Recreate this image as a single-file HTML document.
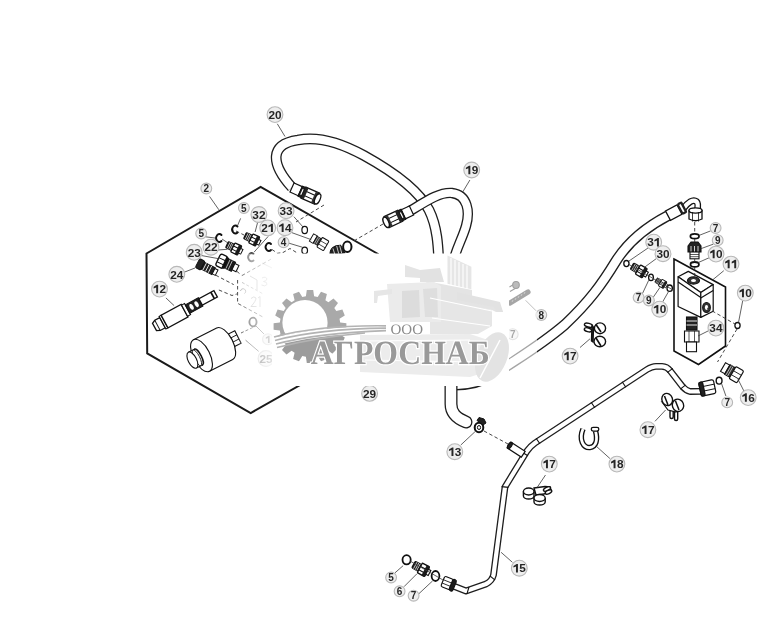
<!DOCTYPE html>
<html><head><meta charset="utf-8">
<style>
html,body{margin:0;padding:0;background:#fff;width:781px;height:641px;overflow:hidden}
svg{display:block;will-change:transform}
.lb circle{fill:#eeeeee;stroke:#b8b8b8;stroke-width:1.1}
.lb text{font-family:"Liberation Sans",sans-serif;font-weight:bold;font-size:11.8px;fill:#262626;text-anchor:middle}
.ld{stroke:#444;stroke-width:0.8;fill:none}
.dash{stroke:#333;stroke-width:0.8;fill:none;stroke-dasharray:4 3}
</style></head>
<body>
<svg width="781" height="641" viewBox="0 0 781 641">
<rect width="781" height="641" fill="#fff"/>

<!-- hexagon -->
<polygon points="146.5,253.5 260.6,187 378,254 378,341 250.7,413 147.2,353.3" fill="none" stroke="#1a1a1a" stroke-width="2"/>

<!-- hoses (outline technique) -->
<g id="hoses" fill="none" stroke-linecap="butt">
  <!-- hose 20 -->
  <path id="h20" d="M292,187.5 C270,163 270,144 298,140 C320,135.5 344,144.5 364,155.5 C392,171 418,189 429,210 C437,226 438.5,245 439,270 L443,360"/>
  <!-- hose 19 -->
  <path id="h19" d="M410,211 C428,200 440,192 452,193 C468,195 470,212 466,226 C462,240 455,250 451,270 L449,360"/>
  <!-- long hose -->
  <path id="hL" d="M668,215.6 C648,226 628,242 616,261 C602,284 589,302 565,324.5 C540,346 515,360 495,374 C485,380 470,385.5 452,385"/>
</g>
<use href="#h20" stroke="#1e1e1e" stroke-width="10.8" fill="none"/>
<use href="#h20" stroke="#fff" stroke-width="8.2" fill="none"/>
<use href="#h19" stroke="#1e1e1e" stroke-width="10.4" fill="none"/>
<use href="#h19" stroke="#fff" stroke-width="7.8" fill="none"/>
<use href="#hL" stroke="#1e1e1e" stroke-width="11" fill="none"/>
<use href="#hL" stroke="#fff" stroke-width="8.3" fill="none"/>

<!-- hose 29 bottom -->
<path id="h29" d="M451,370 L451,404 C451,413 456,418 466,422" fill="none"/>
<use href="#h29" stroke="#1e1e1e" stroke-width="13" fill="none" stroke-linecap="round"/>
<use href="#h29" stroke="#fff" stroke-width="10.4" fill="none" stroke-linecap="round"/>

<!-- tube 15 -->
<path id="t15" d="M701.5,391.3 L690,391.5 Q686,390.5 682.6,386.7 L670,370.5 Q667,366.5 662,366.3 L656,366.3 Q652,366.3 647,369.5 L535,443 Q530,446.5 527,451 L505,487 L493.5,575 Q492,581 486,584 L466,591 L452,585.5" fill="none"/>
<use href="#t15" stroke="#1e1e1e" stroke-width="6.8" fill="none" stroke-linejoin="round"/>
<use href="#t15" stroke="#fff" stroke-width="4.2" fill="none" stroke-linejoin="round"/>


<defs>
  <g id="fitA">
    <rect x="0" y="-3.4" width="6.5" height="6.8" rx="1" fill="#222" stroke="#111" stroke-width="1.1"/>
    <path d="M1.8,-3.4V3.4M3.6,-3.4V3.4M5.2,-3.4V3.4" stroke="#ddd" stroke-width="0.7"/>
    <rect x="6.5" y="-5" width="7.5" height="10" rx="1" fill="#fff" stroke="#111" stroke-width="1.3"/>
    <path d="M6.5,-1.5H14M6.5,2H14" stroke="#111" stroke-width="1"/>
    <rect x="11" y="-5" width="3" height="10" fill="#1a1a1a"/>
    <rect x="14" y="-2.6" width="2.5" height="5.2" fill="#fff" stroke="#111" stroke-width="1"/>
  </g>
  <g id="fitN">
    <rect x="0" y="-6.5" width="8" height="13" rx="2" fill="#fff" stroke="#111" stroke-width="1.4"/>
    <path d="M0.5,-2H8M0.5,2.5H8" stroke="#111" stroke-width="1"/>
    <rect x="6.5" y="-6" width="3" height="12" fill="#111"/>
    <rect x="9" y="-5" width="8" height="10" fill="#1a1a1a" stroke="#111" stroke-width="1"/>
    <path d="M11,-5V5M13.5,-5V5" stroke="#ccc" stroke-width="0.8"/>
    <rect x="17" y="-3.5" width="4.5" height="7" fill="#fff" stroke="#111" stroke-width="1.1"/>
  </g>
  <g id="hosefit">
    <rect x="0" y="-5" width="9" height="10" fill="#fff" stroke="#111" stroke-width="1.2"/>
    <rect x="9" y="-5.6" width="3.5" height="11.2" fill="#222" stroke="#111" stroke-width="1"/>
    <rect x="10.3" y="-3" width="1.2" height="6" fill="#fff"/>
    <rect x="12.5" y="-6" width="15" height="12" fill="#fff" stroke="#111" stroke-width="1.3"/>
    <path d="M12.5,-2.2H27.5M12.5,2.4H27.5" stroke="#111" stroke-width="1"/>
    <rect x="12.5" y="-6" width="3" height="12" fill="#222"/>
    <rect x="23.5" y="-6" width="4" height="12" fill="#333"/>
    <ellipse cx="28" cy="0" rx="2.5" ry="5.5" fill="#fff" stroke="#111" stroke-width="1.3"/>
  </g>
</defs>

<!-- hose end fittings -->
<use href="#hosefit" transform="translate(292,187.5) rotate(24)"/>
<use href="#hosefit" transform="translate(411.5,210.5) rotate(155)"/>

<!-- elbow fitting on long hose -->
<path d="M683,209 C688,202 693,199 696.5,201.5 C698.5,203.5 698,207 697,211" fill="none" stroke="#111" stroke-width="6.8"/>
<path d="M683,209 C688,202 693,199 696.5,201.5 C698.5,203.5 698,207 697,211" fill="none" stroke="#fff" stroke-width="4.3"/>
<g transform="translate(668,215.6) rotate(-28)">
  <rect x="0" y="-5.3" width="13" height="10.6" fill="#fff" stroke="#111" stroke-width="1.3"/>
  <rect x="13" y="-6.5" width="6" height="13" rx="2" fill="#222"/>
  <rect x="14.8" y="-4.2" width="1.8" height="8.4" fill="#fff"/>
</g>
<path d="M689,210.5 L689,219 Q695.5,222.5 702,219 L702,210.5 Z" fill="#fff" stroke="#111" stroke-width="1.3"/>
<ellipse cx="695.5" cy="210.5" rx="6.5" ry="2.6" fill="#fff" stroke="#111" stroke-width="1.3"/>
<path d="M692.5,212V221.5M698.5,212V221.5" stroke="#111" stroke-width="0.8"/>
<!-- hexagon interior parts -->
<g fill="none" stroke="#111" stroke-width="1.9" stroke-linecap="round">
  <path d="M237.5,226.5 A3.2,4 0 1 0 237.5,232.5"/>
  <path d="M221.5,235 A3.2,4 0 1 0 221.5,241"/>
  <path d="M271,244 A3.2,4 0 1 0 271,250"/>
  <path d="M253.5,254 A3.3,4 0 1 0 253.5,260.5"/>
  <ellipse cx="347.3" cy="246.7" rx="4.2" ry="5.2" stroke-width="2"/>
</g>
<g fill="none" stroke="#111" stroke-width="1.2">
  <ellipse cx="304.7" cy="230" rx="2.8" ry="3.6"/>
  <ellipse cx="304.7" cy="250.5" rx="2.8" ry="3.4"/>
</g>
<use href="#fitA" transform="translate(245,235.5) rotate(26)"/>
<use href="#fitA" transform="translate(227,244.5) rotate(26)"/>
<use href="#fitN" transform="translate(218,259.5) rotate(25)"/>
<g transform="translate(197.5,263) rotate(27)">
  <rect x="0" y="-5" width="6" height="10" rx="1.5" fill="#222" stroke="#111"/>
  <rect x="6" y="-3.8" width="12" height="7.6" fill="#222" stroke="#111"/>
  <path d="M8,-3.8V3.8M11,-3.8V3.8M14,-3.8V3.8" stroke="#fff" stroke-width="0.8"/>
  <rect x="18" y="-3" width="3.5" height="6" fill="#fff" stroke="#111" stroke-width="1"/>
</g>
<!-- fitting 14 -->
<g transform="translate(311.5,237.5) rotate(30) scale(0.85)">
  <rect x="0" y="-5" width="5" height="10" fill="#fff" stroke="#111" stroke-width="1.1"/>
  <rect x="5" y="-4.5" width="6" height="9" fill="#333" stroke="#111"/>
  <path d="M6.5,-4.5V4.5M8.5,-4.5V4.5" stroke="#ddd" stroke-width="0.7"/>
  <rect x="11" y="-6.5" width="9" height="13" rx="1" fill="#fff" stroke="#111" stroke-width="1.2"/>
  <path d="M11,-2H20M11,2.5H20" stroke="#111" stroke-width="0.8"/>
</g>
<!-- dark fitting near big ring -->
<g transform="translate(329,249) rotate(-8)">
  <path d="M0,6 C1,-1 6,-3 12,-2 L15,6 Z" fill="#222" stroke="#111"/>
  <path d="M4,0 L5,6M8,-2 L9,6M11,-2 L12,6" stroke="#fff" stroke-width="0.7"/>
</g>

<!-- cartridge 12 -->
<g transform="translate(154.5,327) rotate(-28.5) scale(1.14,1.05)">
  <path d="M0,-4 L3,-5.5 L8,-5.5 L8,5.5 L3,5.5 L0,4 Z" fill="#fff" stroke="#111" stroke-width="1.2"/>
  <path d="M3,-5.5V5.5" stroke="#111" stroke-width="0.8"/>
  <rect x="8" y="-6.8" width="2" height="13.6" fill="#fff" stroke="#111" stroke-width="1"/>
  <rect x="10" y="-6.8" width="20" height="13.6" fill="#fff" stroke="#111" stroke-width="1.2"/>
  <rect x="30" y="-6" width="3" height="12" fill="#fff" stroke="#111" stroke-width="1"/>
  <rect x="33" y="-4.5" width="13" height="9" fill="#222" stroke="#111"/>
  <ellipse cx="37" cy="0" rx="1.6" ry="3" fill="#fff"/>
  <ellipse cx="42" cy="0" rx="1.6" ry="3" fill="#fff"/>
  <rect x="46" y="-3.5" width="15" height="7" fill="#fff" stroke="#111" stroke-width="1.2"/>
  <path d="M58,-3.5V3.5" stroke="#111" stroke-width="1.5"/>
</g>

<!-- coil 25 -->
<g transform="translate(201.5,355.5) rotate(-27) scale(0.93)" fill="#fff" stroke="#111" stroke-width="1.2">
  <rect x="30" y="-7.5" width="14" height="15" fill="#fff"/>
  <path d="M30,-2.5H44M30,2.5H44" stroke-width="0.9"/>
  <path d="M0,-19 L28,-19 A9,19 0 0 1 28,19 L0,19 Z"/>
  <ellipse cx="0" cy="0" rx="9" ry="19"/>
  <rect x="-11" y="-9.5" width="9" height="19" stroke="none"/>
  <path d="M-11,-9.5H-3M-11,9.5H-3" />
  <ellipse cx="-3.5" cy="0" rx="3" ry="9.5" stroke-width="1.6"/>
  <ellipse cx="-5.5" cy="0" rx="3" ry="9.5" stroke-width="0.9"/>
  <ellipse cx="-11" cy="0" rx="4.5" ry="9.5"/>
</g>

<!-- valve block area -->
<polygon points="674,259 725.5,287 725.5,346 698.5,364.5 674,351" fill="none" stroke="#111" stroke-width="1.6"/>
<g stroke="#111" stroke-width="1.2" stroke-linejoin="round">
  <polygon points="678.1,276.8 688.3,271.4 713.2,284.6 700.8,292.4" fill="#fff"/>
  <polygon points="678.1,276.8 700.8,292.4 700.8,317.4 678.1,306.5" fill="#fff"/>
  <polygon points="700.8,292.4 713.2,284.6 713.2,311.2 700.8,317.4" fill="#fff"/>
  <path d="M700.8,298 L713.2,290.5" fill="none"/>
  <path d="M678.1,282 L700.8,297.5" fill="none"/>
  <ellipse cx="693.5" cy="280.5" rx="6" ry="3.6" fill="#333"/>
  <ellipse cx="693.5" cy="280.5" rx="2.5" ry="1.6" fill="#fff" stroke="none"/>
  <ellipse cx="706.5" cy="307.5" rx="3.8" ry="5" fill="#333"/>
  <ellipse cx="706.5" cy="307.5" rx="1.6" ry="2.4" fill="#fff" stroke="none"/>
</g>
<!-- cartridge 34 -->
<g stroke="#111" stroke-width="1.1">
  <rect x="686.5" y="317" width="10.5" height="13" fill="#222"/>
  <path d="M686.5,321H697M686.5,325H697" stroke="#fff" stroke-width="0.9"/>
  <path d="M684.5,331 L699,331 L699,342 L684.5,342 Z" fill="#fff"/>
  <path d="M689,331V342M694.5,331V342" stroke-width="0.7"/>
  <rect x="686.5" y="342" width="10" height="9.7" fill="#fff"/>
</g>
<!-- small parts above block -->
<g fill="none" stroke="#111">
  <ellipse cx="694.7" cy="236.2" rx="4.3" ry="2.4" stroke-width="1.8"/>
  <ellipse cx="694.7" cy="264.4" rx="4.2" ry="2.4" stroke-width="1.8"/>
  <ellipse cx="626.4" cy="263.6" rx="2.6" ry="3.1" stroke-width="1.3"/>
  <ellipse cx="651" cy="277.4" rx="2.4" ry="3.2" stroke-width="1.3"/>
  <ellipse cx="669.7" cy="288.2" rx="2.7" ry="3.2" stroke-width="1.3"/>
  <ellipse cx="719.1" cy="380.7" rx="2.9" ry="3.4" stroke-width="1.4"/>
  <ellipse cx="406.6" cy="559.8" rx="4.1" ry="4.6" stroke-width="1.8"/>
  <ellipse cx="435.5" cy="576" rx="3.9" ry="5" stroke-width="1.8"/>
  <ellipse cx="737.5" cy="325.5" rx="2.6" ry="3" stroke-width="1.3"/>
</g>
<!-- fitting 9 above block (vertical) -->
<g stroke="#111" stroke-width="1.1">
  <path d="M688,246 L691,242 L698,242 L701,246 L701,252 L688,252 Z" fill="#222"/>
  <path d="M691,246V252M694.5,246V252M698,246V252" stroke="#fff" stroke-width="0.8"/>
  <rect x="690" y="252" width="9" height="6.8" fill="#fff"/>
  <path d="M690,254.5H699M690,256.7H699" stroke-width="0.7"/>
</g>
<use href="#fitA" transform="translate(632,266) rotate(30) scale(1.05)"/>
<use href="#fitA" transform="translate(656,280) rotate(30) scale(0.75)"/>
<use href="#fitA" transform="translate(413.5,564.5) rotate(28) scale(1.1)"/>
<!-- fitting 16 -->
<g transform="translate(723,367) rotate(30)">
  <rect x="0" y="-5" width="5" height="10" fill="#fff" stroke="#111" stroke-width="1.1"/>
  <rect x="5" y="-5.5" width="6" height="11" fill="#333" stroke="#111"/>
  <path d="M6.5,-5.5V5.5M8.5,-5.5V5.5" stroke="#ddd" stroke-width="0.7"/>
  <rect x="11" y="-7" width="9" height="14" rx="1.5" fill="#fff" stroke="#111" stroke-width="1.2"/>
  <path d="M11,-2H20M11,2.5H20" stroke="#111" stroke-width="0.8"/>
</g>
<!-- tube nuts -->
<g transform="translate(700,389.5) rotate(-12)" stroke="#111" stroke-width="1.2">
  <rect x="0" y="-7" width="15" height="14" rx="2" fill="#fff"/>
  <path d="M4,-2.3H15M4,2.3H15" stroke-width="0.9"/>
  <rect x="0" y="-7" width="4" height="14" rx="1.5" fill="#222"/>
</g>
<g transform="translate(448.5,583.5) rotate(22) scale(0.88)" stroke="#111" stroke-width="1.3">
  <rect x="-7" y="-6.3" width="11" height="12.6" rx="2" fill="#fff"/>
  <path d="M-7,-1.8H4M-7,2.2H4" stroke-width="0.9"/>
  <rect x="3" y="-6.8" width="4.5" height="13.6" rx="2" fill="#1a1a1a"/>
</g>
<path d="M594.9,407.8 L591.1,402.2 M625.9,387.3 L622.1,381.7 M539.9,443.8 L536.1,438.2 M667.3,372.6 L672.7,368.4 M680.3,389.1 L685.7,384.9 M501.6,486.6 L508.4,487.4 M522.1,452.2 L527.9,455.8 M489.9,575.8 L495.1,580.2 M469.0,587.0 L467.0,593.6" stroke="#111" stroke-width="1.1" fill="none"/>
<!-- junction stub -->
<g transform="translate(509,445) rotate(33)" stroke="#111" stroke-width="1.2">
  <rect x="0" y="-3.5" width="17" height="7" fill="#fff"/>
  <ellipse cx="1" cy="0" rx="1.8" ry="3.5" fill="#222"/>
</g>
<!-- clamp 13 -->
<g fill="none" stroke="#111" stroke-width="2">
  <ellipse cx="479" cy="427.5" rx="4.3" ry="4.8"/>
  <ellipse cx="479" cy="427.5" rx="1.6" ry="2" stroke-width="1"/>
</g>
<path d="M477,420.5 L479,417.5 L484,419 L486,423 L483,425 Z" fill="#222" stroke="#111" stroke-width="1"/>
<!-- clip 18 -->
<path d="M583,429 C578.5,440 583.5,448 590,447.5 C596,447 598,440 595.5,431" fill="none" stroke="#111" stroke-width="5.5"/>
<path d="M583,429 C578.5,440 583.5,448 590,447.5 C596,447 598,440 595.5,431" fill="none" stroke="#fff" stroke-width="2.8"/>
<rect x="591.3" y="427.3" width="7.5" height="3.8" rx="1.8" fill="#fff" stroke="#111" stroke-width="1.3"/>
<!-- clips 17 -->
<g fill="#fff" stroke="#111" stroke-width="1.4">
  <ellipse cx="588.5" cy="325.2" rx="4.2" ry="1.9" transform="rotate(15 588.5 325.2)"/>
  <ellipse cx="588" cy="329.8" rx="3.8" ry="1.9" transform="rotate(15 588 329.8)"/>
  <path d="M592,326 L593.5,327 L593,342 L591.5,341 Z" fill="#555"/>
  <ellipse cx="600" cy="328.3" rx="5.6" ry="5.4"/>
  <ellipse cx="599.8" cy="341.5" rx="5.8" ry="5.3"/>
  <path d="M596,324.5 L601,332 M596,338 L601,346" fill="none" stroke-width="1.6"/>
</g>
<g fill="#fff" stroke="#111" stroke-width="1.4">
  <rect x="670" y="410" width="3.2" height="8.5" rx="1.5"/>
  <rect x="674.5" y="411" width="3.2" height="9.5" rx="1.5"/>
  <path d="M662,402 L668,410 L676,412 L680,405 Z" stroke-width="1.2"/>
  <ellipse cx="667.2" cy="399.5" rx="5.3" ry="6.2" transform="rotate(-20 667.2 399.5)"/>
  <ellipse cx="678" cy="405.3" rx="5.6" ry="6.2" transform="rotate(-20 678 405.3)"/>
  <path d="M664.5,396 L668,405 M675.5,401 L679,410" fill="none" stroke-width="1.5"/>
</g>
<g fill="#fff" stroke="#111" stroke-width="1.4">
  <path d="M534,488 L545,486.5 L550,487 L551,490 L544,494 L536,495 Z"/>
  <ellipse cx="547" cy="489" rx="3.8" ry="1.7" transform="rotate(-25 547 489)"/>
  <ellipse cx="548.5" cy="492" rx="3.5" ry="1.7" transform="rotate(-25 548.5 492)"/>
  <path d="M523.4,491.5 V496 A5.3,3 0 0 0 534,496 V491.5" />
  <ellipse cx="528.7" cy="491.5" rx="5.3" ry="3.5"/>
  <path d="M534,498 V502 A5.6,3 0 0 0 545.2,502 V498" />
  <ellipse cx="539.6" cy="498" rx="5.6" ry="3.5"/>
</g>

<!-- faded block details -->
<g fill="none" stroke="#aaa" stroke-width="0.9">
  <path d="M242,282.4 L262.4,293.5" stroke-dasharray="3 2"/>
  <path d="M262,278 Q266,276 267,279 Q266,281.5 263.5,281.5 Q267.5,282 267,284.5 Q265,287 261.5,285"/>
  <path d="M251,298.5 Q254,295.5 256,298 Q256,301 251,306.5 L256.5,306.5 M258,298 L260,296.5 V307"/>
  <path d="M240.5,291 A2.6,2.6 0 1 1 244.5,293.5"/>
  <path d="M250,276 L257,280 L257,290 M262,263 L272,268"/>
</g>
<!-- faded items in left band -->
<g fill="none" stroke="#111">
  <ellipse cx="253" cy="322" rx="3.6" ry="4.3" stroke-width="1.8"/>
  <path d="M256,326 L264,334 M245.6,340.2 L258.7,351.4" stroke-width="0.8"/>
  <path d="M241,333 L256,326" stroke-width="0.8" stroke-dasharray="3 2"/>
</g>
<!-- item 8 -->
<g stroke="#111" stroke-width="1.1">
  <path d="M509.5,287 L515,283.5 M510,291.5 L516,288" fill="none"/>
  <ellipse cx="516" cy="285" rx="3.3" ry="3.5" fill="#555"/>
  <path d="M510,303 L528,292" stroke="#222" stroke-width="5.2" stroke-linecap="round"/>
  <path d="M512,302 L513,300 M515,300 L516,298 M518,298 L519,296 M521,296 L522,294 M524,294 L525,292" stroke="#aaa" stroke-width="0.7"/>
</g>
<!-- leaders -->
<g stroke="#3a3a3a" stroke-width="0.8" fill="none">
<line x1="277.3" y1="123.8" x2="285" y2="136.5"/>
<line x1="209.6" y1="196.5" x2="218.9" y2="209.8"/>
<line x1="469.9" y1="180" x2="462.4" y2="192.5"/>
<line x1="240.6" y1="218.4" x2="237.6" y2="225.5"/>
<line x1="257.8" y1="221.7" x2="255.1" y2="232"/>
<line x1="268.2" y1="236.4" x2="254" y2="252.2"/>
<line x1="293.9" y1="216.7" x2="303.1" y2="227.1"/>
<line x1="291.7" y1="232.6" x2="311.3" y2="239.7"/>
<line x1="288.4" y1="243" x2="302.6" y2="247.3"/>
<line x1="205.6" y1="236.8" x2="215.6" y2="238.1"/>
<line x1="218" y1="250" x2="227.4" y2="249.3"/>
<line x1="201.8" y1="255.6" x2="218.7" y2="258.7"/>
<line x1="183.7" y1="272.4" x2="195" y2="268"/>
<line x1="165.9" y1="297.9" x2="174.1" y2="305.6"/>
<line x1="648" y1="248" x2="629" y2="261"/>
<line x1="656.2" y1="258.7" x2="644" y2="267.6"/>
<line x1="642.1" y1="294.3" x2="648.7" y2="280.3"/>
<line x1="653.4" y1="297" x2="660" y2="287.3"/>
<line x1="662.7" y1="301.8" x2="668.3" y2="292"/>
<line x1="710.6" y1="230.9" x2="698.6" y2="235.6"/>
<line x1="713.2" y1="244.2" x2="700.6" y2="248.8"/>
<line x1="709.9" y1="257.4" x2="698" y2="262.7"/>
<line x1="723.8" y1="270.7" x2="712.5" y2="280"/>
<line x1="742.7" y1="300.8" x2="738.5" y2="322.5"/>
<line x1="708" y1="331" x2="698" y2="336"/>
<line x1="580" y1="347.5" x2="590" y2="338.8"/>
<line x1="738" y1="379.3" x2="744.6" y2="392.4"/>
<line x1="721.7" y1="384" x2="725.9" y2="396"/>
<line x1="655" y1="421.3" x2="665.6" y2="410"/>
<line x1="460.8" y1="445" x2="474.9" y2="431.8"/>
<line x1="545.5" y1="475" x2="537.2" y2="487.4"/>
<line x1="609.9" y1="458.5" x2="595.8" y2="445.8"/>
<line x1="512.4" y1="562.3" x2="501.1" y2="552.3"/>
<line x1="395" y1="572.8" x2="403.1" y2="565.7"/>
<line x1="404" y1="586.7" x2="417" y2="573.7"/>
<line x1="418.7" y1="593.9" x2="432.6" y2="580.9"/>
<line x1="536.1" y1="310.8" x2="525.6" y2="300.3"/>

<path d="M629,264.5 L673,290"/>
<path d="M410,561 L443,580"/>
<path d="M222,239 L228,243"/>

</g>
<g stroke="#333" stroke-width="0.9" fill="none" stroke-dasharray="3.5 2.5">

<path d="M324,205 L296,222"/>
<path d="M383,224 L352,242"/>
<path d="M694.7,222 V234 M694.7,239 V242 M694.7,259 V262 M694.7,267 V279"/>
<path d="M707,308 L735,324 M737,329 L717.5,362"/>
<path d="M484,431 L508,444"/>
<path d="M236.8,271.3 L241.5,275.2 M237.6,280 V303.3 L262.5,316.8 M241.9,275.6 L271.8,258.7 M215.7,275.2 L233.7,284.6 M218.9,290 L232,295.5 L236.8,294"/>
<path d="M272,249.5 L277.5,253.3 L283,252.5 L290,248.5 L297,252.8"/>
<path d="M236,231 L244,235"/>

</g>

<!-- labels -->
<g class="lb">
<circle cx="275" cy="114.6" r="7.9"/>
<text x="271.72" y="118.8" style="font-size:11.8px">2</text>
<text x="278.28" y="118.8" style="font-size:11.8px">0</text>
<circle cx="206.3" cy="188.5" r="5.4"/>
<text x="206.30" y="192.1" style="font-size:10px">2</text>
<circle cx="471.7" cy="170" r="7.9"/>
<text x="474.98" y="174.2" style="font-size:11.8px">9</text>
<circle cx="243.9" cy="208" r="5.4"/>
<text x="243.90" y="211.6" style="font-size:10px">5</text>
<circle cx="258.9" cy="214.5" r="7.9"/>
<text x="255.62" y="218.7" style="font-size:11.8px">3</text>
<text x="262.18" y="218.7" style="font-size:11.8px">2</text>
<circle cx="286.1" cy="210.7" r="7.9"/>
<text x="282.82" y="214.9" style="font-size:11.8px">3</text>
<text x="289.38" y="214.9" style="font-size:11.8px">3</text>
<circle cx="267.7" cy="227.9" r="7.9"/>
<text x="264.42" y="232.1" style="font-size:11.8px">2</text>
<circle cx="285" cy="227.7" r="7.9"/>
<text x="288.28" y="231.9" style="font-size:11.8px">4</text>
<circle cx="283.6" cy="242.2" r="5.4"/>
<text x="283.60" y="245.8" style="font-size:10px">4</text>
<circle cx="201.2" cy="233.5" r="5.4"/>
<text x="201.20" y="237.1" style="font-size:10px">5</text>
<circle cx="211" cy="247.2" r="7.9"/>
<text x="207.72" y="251.4" style="font-size:11.8px">2</text>
<text x="214.28" y="251.4" style="font-size:11.8px">2</text>
<circle cx="194.2" cy="252.3" r="7.9"/>
<text x="190.92" y="256.5" style="font-size:11.8px">2</text>
<text x="197.48" y="256.5" style="font-size:11.8px">3</text>
<circle cx="176.8" cy="274.3" r="7.9"/>
<text x="173.52" y="278.5" style="font-size:11.8px">2</text>
<text x="180.08" y="278.5" style="font-size:11.8px">4</text>
<circle cx="159.5" cy="289.1" r="7.9"/>
<text x="162.78" y="293.3" style="font-size:11.8px">2</text>
<circle cx="369.6" cy="393.4" r="7.9"/>
<text x="366.32" y="397.6" style="font-size:11.8px">2</text>
<text x="372.88" y="397.6" style="font-size:11.8px">9</text>
<circle cx="541.3" cy="315" r="5.4"/>
<text x="541.30" y="318.6" style="font-size:10px">8</text>
<circle cx="653.7" cy="242.2" r="7.9"/>
<text x="650.42" y="246.4" style="font-size:11.8px">3</text>
<circle cx="663" cy="253.7" r="7.9"/>
<text x="659.72" y="257.9" style="font-size:11.8px">3</text>
<text x="666.28" y="257.9" style="font-size:11.8px">0</text>
<circle cx="715.6" cy="228" r="5.4"/>
<text x="715.60" y="231.6" style="font-size:10px">7</text>
<circle cx="717.7" cy="240.2" r="5.4"/>
<text x="717.70" y="243.8" style="font-size:10px">9</text>
<circle cx="716" cy="254.1" r="7.9"/>
<text x="719.28" y="258.3" style="font-size:11.8px">0</text>
<circle cx="731" cy="264.1" r="7.9"/>
<circle cx="745.3" cy="293.1" r="7.9"/>
<text x="748.58" y="297.3" style="font-size:11.8px">0</text>
<circle cx="638.6" cy="297.5" r="5.4"/>
<text x="638.60" y="301.1" style="font-size:10px">7</text>
<circle cx="648.9" cy="300.5" r="5.4"/>
<text x="648.90" y="304.1" style="font-size:10px">9</text>
<circle cx="659.7" cy="309.2" r="7.9"/>
<text x="662.98" y="313.4" style="font-size:11.8px">0</text>
<circle cx="715.9" cy="328.1" r="7.9"/>
<text x="712.62" y="332.3" style="font-size:11.8px">3</text>
<text x="719.18" y="332.3" style="font-size:11.8px">4</text>
<circle cx="570.1" cy="356.1" r="7.9"/>
<text x="573.38" y="360.3" style="font-size:11.8px">7</text>
<circle cx="748.2" cy="397.6" r="7.9"/>
<text x="751.48" y="401.8" style="font-size:11.8px">6</text>
<circle cx="727.2" cy="402.4" r="5.4"/>
<text x="727.20" y="406.0" style="font-size:10px">7</text>
<circle cx="647.9" cy="429.7" r="7.9"/>
<text x="651.18" y="433.9" style="font-size:11.8px">7</text>
<circle cx="454.8" cy="451.7" r="7.9"/>
<text x="458.08" y="455.9" style="font-size:11.8px">3</text>
<circle cx="549.3" cy="464.1" r="7.9"/>
<text x="552.58" y="468.3" style="font-size:11.8px">7</text>
<circle cx="616.9" cy="464.1" r="7.9"/>
<text x="620.18" y="468.3" style="font-size:11.8px">8</text>
<circle cx="519.3" cy="568.2" r="7.9"/>
<text x="522.58" y="572.4" style="font-size:11.8px">5</text>
<circle cx="391.1" cy="577.5" r="5.4"/>
<text x="391.10" y="581.1" style="font-size:10px">5</text>
<circle cx="399.6" cy="591.3" r="5.4"/>
<text x="399.60" y="594.9" style="font-size:10px">6</text>
<circle cx="413.6" cy="595.7" r="5.4"/>
<text x="413.60" y="599.3" style="font-size:10px">7</text>
<circle cx="512.7" cy="334.2" r="5.4"/>
<text x="512.70" y="337.8" style="font-size:10px">7</text>
<circle cx="268" cy="339.3" r="5.4"/>
<circle cx="266" cy="358.5" r="7.9"/>
<text x="262.72" y="362.7" style="font-size:11.8px">2</text>
<text x="269.28" y="362.7" style="font-size:11.8px">5</text>
<path d="M469.03,165.75 L470.33,165.75 L470.33,174.20 L468.38,174.20 L468.38,168.29 L465.85,169.29 L465.85,167.76Z M271.59,223.65 L272.89,223.65 L272.89,232.10 L270.94,232.10 L270.94,226.19 L268.41,227.19 L268.41,225.66Z M282.33,223.45 L283.63,223.45 L283.63,231.90 L281.68,231.90 L281.68,225.99 L279.15,226.99 L279.15,225.46Z M156.83,284.85 L158.13,284.85 L158.13,293.30 L156.18,293.30 L156.18,287.39 L153.65,288.39 L153.65,286.86Z M657.59,237.95 L658.89,237.95 L658.89,246.40 L656.95,246.40 L656.95,240.49 L654.41,241.49 L654.41,239.96Z M713.33,249.85 L714.63,249.85 L714.63,258.30 L712.68,258.30 L712.68,252.39 L710.15,253.39 L710.15,251.86Z M728.33,259.85 L729.63,259.85 L729.63,268.30 L727.68,268.30 L727.68,262.39 L725.15,263.39 L725.15,261.86Z M734.89,259.85 L736.19,259.85 L736.19,268.30 L734.25,268.30 L734.25,262.39 L731.71,263.39 L731.71,261.86Z M742.63,288.85 L743.93,288.85 L743.93,297.30 L741.98,297.30 L741.98,291.39 L739.45,292.39 L739.45,290.86Z M657.03,304.95 L658.33,304.95 L658.33,313.40 L656.38,313.40 L656.38,307.49 L653.85,308.49 L653.85,306.96Z M567.43,351.85 L568.73,351.85 L568.73,360.30 L566.78,360.30 L566.78,354.39 L564.25,355.39 L564.25,353.86Z M745.53,393.35 L746.83,393.35 L746.83,401.80 L744.88,401.80 L744.88,395.89 L742.35,396.89 L742.35,395.36Z M645.23,425.45 L646.53,425.45 L646.53,433.90 L644.58,433.90 L644.58,427.99 L642.05,428.99 L642.05,427.46Z M452.13,447.45 L453.43,447.45 L453.43,455.90 L451.48,455.90 L451.48,449.99 L448.95,450.99 L448.95,449.46Z M546.63,459.85 L547.93,459.85 L547.93,468.30 L545.98,468.30 L545.98,462.39 L543.45,463.39 L543.45,461.86Z M614.23,459.85 L615.53,459.85 L615.53,468.30 L613.58,468.30 L613.58,462.39 L611.05,463.39 L611.05,461.86Z M516.63,563.95 L517.93,563.95 L517.93,572.40 L515.98,572.40 L515.98,566.49 L513.45,567.49 L513.45,565.96Z M268.52,335.74 L269.62,335.74 L269.62,342.90 L267.97,342.90 L267.97,337.89 L265.82,338.74 L265.82,337.44Z" fill="#262626"/>
</g>
<!-- watermark -->
<defs>
  <linearGradient id="wmL" x1="0" x2="1" y1="0" y2="0">
    <stop offset="0" stop-color="#fff" stop-opacity="0"/>
    <stop offset="0.35" stop-color="#fff" stop-opacity="0.6"/>
    <stop offset="1" stop-color="#fff" stop-opacity="0.85"/>
  </linearGradient>
  <clipPath id="gearTop"><path d="M260,250 L400,250 L400,326 Q322,325 272,338 Z"/></clipPath>
  <clipPath id="gearBot"><path d="M262,349 Q310,336 352,334 L318,368 L262,368 Z"/></clipPath>
</defs>
<rect x="237" y="253.5" width="35" height="132.5" fill="url(#wmL)"/>
<rect x="509" y="253.5" width="28" height="132.5" fill="#fff" fill-opacity="0.6"/>
<rect x="272" y="253.5" width="237" height="132.5" fill="#fff"/>
<g id="combine" stroke="none">
  <!-- header platform -->
  <path d="M360,335 L470,334 L488,340 L486,372 L470,377 L360,372 Z" fill="#ececec"/>
  <!-- lower body -->
  <path d="M430,296 L492,310 L492,326 L478,334 L430,334 Z" fill="#e6e6e6"/>
  <!-- upper body box -->
  <path d="M426,281 L472,290 L472,300 L500,305 L503,312 L496,312 L492,310 L430,298 Z" fill="#e4e4e4"/>
  <!-- auger -->
  <path d="M457,292 L500,302 L503,312 L497,312 L494,307 L457,300 Z" fill="#e2e2e2"/>
  <!-- unloader grille -->
  <path d="M447.5,255.6 L471.4,266.8 L471.4,289.3 L447.5,283.7 Z" fill="#e6e6e6"/>
  <!-- cab -->
  <path d="M387,284 L434,282 L441,286 L441,322 L390,322 Z" fill="#ebebeb"/>
  <path d="M402,291 L419,290 L420,317 L402,318 Z" fill="#dcdcdc"/>
  <path d="M423,289 L437,288 L438,317 L425,317 Z" fill="#dedede"/>
  <path d="M374,291 L392,289 L392,294 L378,296 L377,303 L374,303 Z" fill="#e6e6e6"/>
  <path d="M405,265 L420,270 L420,278 L405,277 Z" fill="#e4e4e4"/>
  <path d="M420,270 L440,268 L444,282 L420,282 Z" fill="#e2e2e2"/>
  <!-- wheel -->
  <ellipse cx="492" cy="357" rx="15" ry="26" transform="rotate(22 492 357)" fill="#e3e3e3"/>
</g>
<g fill="none" stroke="#fff" stroke-width="1.1">
  <path d="M451,258 V285 M455,260 V286 M459,262 V287 M463,264 V288 M467,265.5 V289"/>
  <path d="M430,298 L492,311 M432,318 L490,326"/>
  <path d="M365,341 L470,340 M365,360 L475,362"/>
  <path d="M480,378 L500,340" stroke-width="1.5"/>
</g>
<path d="M305.9,296.3 L306.8,290.1 L313.2,290.1 L314.1,296.3 L317.7,297.0 L321.0,291.7 L326.9,294.1 L325.4,300.2 L328.4,302.2 L333.5,298.5 L338.0,303.0 L334.3,308.1 L336.3,311.1 L342.4,309.6 L344.8,315.5 L339.5,318.8 L340.2,322.4 L346.4,323.3 L346.4,329.7 L340.2,330.6 L339.5,334.2 L344.8,337.5 L342.4,343.4 L336.3,341.9 L334.3,344.9 L338.0,350.0 L333.5,354.5 L328.4,350.8 L325.4,352.8 L326.9,358.9 L321.0,361.3 L317.7,356.0 L314.1,356.7 L313.2,362.9 L306.8,362.9 L305.9,356.7 L302.3,356.0 L299.0,361.3 L293.1,358.9 L294.6,352.8 L291.6,350.8 L286.5,354.5 L282.0,350.0 L285.7,344.9 L283.7,341.9 L277.6,343.4 L275.2,337.5 L280.5,334.2 L279.8,330.6 L273.6,329.7 L273.6,323.3 L279.8,322.4 L280.5,318.8 L275.2,315.5 L277.6,309.6 L283.7,311.1 L285.7,308.1 L282.0,303.0 L286.5,298.5 L291.6,302.2 L294.6,300.2 L293.1,294.1 L299.0,291.7 L302.3,297.0 Z" fill="#a9a9a9" clip-path="url(#gearTop)"/>
<circle cx="305" cy="322.7" r="22.6" fill="#fff" clip-path="url(#gearTop)"/>
<path d="M305.9,296.3 L306.8,290.1 L313.2,290.1 L314.1,296.3 L317.7,297.0 L321.0,291.7 L326.9,294.1 L325.4,300.2 L328.4,302.2 L333.5,298.5 L338.0,303.0 L334.3,308.1 L336.3,311.1 L342.4,309.6 L344.8,315.5 L339.5,318.8 L340.2,322.4 L346.4,323.3 L346.4,329.7 L340.2,330.6 L339.5,334.2 L344.8,337.5 L342.4,343.4 L336.3,341.9 L334.3,344.9 L338.0,350.0 L333.5,354.5 L328.4,350.8 L325.4,352.8 L326.9,358.9 L321.0,361.3 L317.7,356.0 L314.1,356.7 L313.2,362.9 L306.8,362.9 L305.9,356.7 L302.3,356.0 L299.0,361.3 L293.1,358.9 L294.6,352.8 L291.6,350.8 L286.5,354.5 L282.0,350.0 L285.7,344.9 L283.7,341.9 L277.6,343.4 L275.2,337.5 L280.5,334.2 L279.8,330.6 L273.6,329.7 L273.6,323.3 L279.8,322.4 L280.5,318.8 L275.2,315.5 L277.6,309.6 L283.7,311.1 L285.7,308.1 L282.0,303.0 L286.5,298.5 L291.6,302.2 L294.6,300.2 L293.1,294.1 L299.0,291.7 L302.3,297.0 Z" fill="#9c9c9c" clip-path="url(#gearBot)"/>
<g fill="none" stroke="#b3b3b3" stroke-width="1.7">
  <path d="M274,337 Q318,325 386,325.8"/>
  <path d="M275,340.5 Q318,329 386,328.2"/>
  <path d="M276,344 Q318,333 386,330.6"/>
  <path d="M277,347.5 Q318,337 365,333"/>
</g>
<g id="logo" font-family="Liberation Serif, serif" fill="#999" stroke="#fff" stroke-width="2.4" paint-order="stroke" style="text-rendering:geometricPrecision">
  <text x="310.8" y="364.4" font-size="34" font-weight="bold" textLength="179" lengthAdjust="spacingAndGlyphs">АГРОСНАБ</text>
  <text x="390.5" y="333.8" font-size="14.5" textLength="32.5" lengthAdjust="spacingAndGlyphs" fill="#8a8a8a">ООО</text>
</g>
</svg>
</body></html>
